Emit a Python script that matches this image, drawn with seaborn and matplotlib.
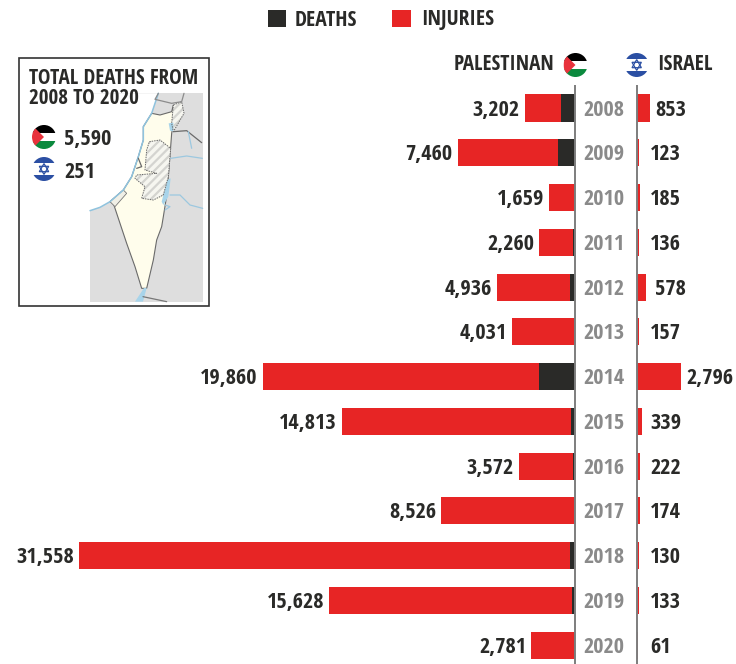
import matplotlib
matplotlib.use("Agg")
import matplotlib.pyplot as plt
from matplotlib.patches import Circle, Rectangle, Polygon
import pandas as pd
import seaborn as sns

years = ["2008","2009","2010","2011","2012","2013","2014","2015","2016","2017","2018","2019","2020"]
pal_total = [3202,7460,1659,2260,4936,4031,19860,14813,3572,8526,31558,15628,2781]
pal_deaths = [890,1066,95,124,300,60,2260,230,108,77,299,160,45]
isr_total = [853,123,185,136,578,157,2796,339,222,174,130,133,61]
isr_deaths = [35,9,8,11,7,6,88,25,13,15,14,10,3]

RED = "#e72525"; DARK = "#2a2a28"; GRAY = "#7d7d7d"; YEAR = "#8a8a8a"
FONT = ["Open Sans Condensed", "Roboto Condensed", "DejaVu Sans"]
W, H = 736, 664
sns.set_theme(style="white")
plt.rcParams["font.family"] = FONT
plt.rcParams["font.weight"] = "bold"
plt.rcParams["hatch.linewidth"] = 1.6
fig = plt.figure(figsize=(W/100, H/100), dpi=100)
PX = 0.01572

def axpx(x0, y0, x1, y1, **kw):
    return fig.add_axes([x0/W, 1-y1/H, (x1-x0)/W, (y1-y0)/H], **kw)

def panel(ax, totals, deaths, xlim):
    df = pd.DataFrame({"year": years, "total": totals, "deaths": deaths})
    sns.barplot(df, y="year", x="total", color=RED, saturation=1, width=0.605, ax=ax, orient="h", linewidth=0)
    sns.barplot(df, y="year", x="deaths", color=DARK, saturation=1, width=0.605, ax=ax, orient="h", linewidth=0)
    ax.set_xlim(*xlim)
    ax.set_ylim(12.42, -0.514)
    ax.axis("off")

axl = axpx(0, 85, 575, 664); panel(axl, pal_total, pal_deaths, (575/PX, 0))
axr = axpx(637, 85, 736, 664); panel(axr, isr_total, isr_deaths, (0, 99/PX))
for i, v in enumerate(pal_total):
    axl.annotate(f"{v:,}", (v, i), xytext=(-5*0.72, -1.5), textcoords="offset points",
                 ha="right", va="center", fontsize=16, color=DARK)
for i, v in enumerate(isr_total):
    base = 18/PX if v >= 500 else 13/PX
    axr.annotate(f"{v:,}", (max(v + 5/PX, base), i), xytext=(0, -1.5), textcoords="offset points",
                 ha="left", va="center", fontsize=16, color=DARK)
    axl.annotate(years[i], (0, i), xytext=(29*0.72, -1.5), textcoords="offset points",
                 ha="center", va="center", fontsize=16, color=YEAR, annotation_clip=False)

# overlay in pixel coordinates
ov = fig.add_axes([0, 0, 1, 1], zorder=5)
ov.set_xlim(0, W); ov.set_ylim(H, 0); ov.axis("off"); ov.patch.set_alpha(0)
for x in (575, 637):
    ov.plot([x, x], [85, H], color=GRAY, lw=1.4, solid_capstyle="butt")

def T(x, y, s, ha="left", fs=16, c=DARK):
    ov.text(x, y, s, ha=ha, va="center", fontsize=fs, color=c)

ov.add_patch(Rectangle((268, 10), 18, 17, color=DARK, lw=0))
ov.add_patch(Rectangle((392, 10), 19, 17, color=RED, lw=0))
T(295, 20, "DEATHS", fs=15.5); T(421, 20, "INJURIES", fs=15.5)
T(454, 65, "PALESTINAN", fs=15.2); T(657, 65, "ISRAEL", fs=15.5)

def pal_flag(cx, cy, r=12):
    clip = Circle((cx, cy), r, transform=ov.transData)
    parts = [Rectangle((cx-r, cy-r), 2*r, 2*r/3, color="#000000", lw=0),
             Rectangle((cx-r, cy-r/3), 2*r, 2*r/3, color="#ffffff", lw=0),
             Rectangle((cx-r, cy+r/3), 2*r, 2*r/3, color="#0b8a3e", lw=0),
             Polygon([(cx-r, cy-r), (cx, cy), (cx-r, cy+r)], color="#e8323c", lw=0)]
    for p in parts:
        ov.add_patch(p); p.set_clip_path(clip)

def isr_flag(cx, cy, r=12):
    clip = Circle((cx, cy), r, transform=ov.transData)
    parts = [Rectangle((cx-r, cy-r), 2*r, 0.5*r, color="#2b4fa3", lw=0),
             Rectangle((cx-r, cy+0.5*r), 2*r, 0.5*r, color="#2b4fa3", lw=0)]
    for p in parts:
        ov.add_patch(p); p.set_clip_path(clip)
    s = 0.45*r
    ov.add_patch(Polygon([(cx, cy-s), (cx-0.87*s, cy+0.5*s), (cx+0.87*s, cy+0.5*s)], fill=False, ec="#2b4fa3", lw=0.9))
    ov.add_patch(Polygon([(cx, cy+s), (cx-0.87*s, cy-0.5*s), (cx+0.87*s, cy-0.5*s)], fill=False, ec="#2b4fa3", lw=0.9))

pal_flag(575.5, 65); isr_flag(636.7, 65)

ov.add_patch(Rectangle((18.8, 58), 190, 248, fc="white", ec="#333333", lw=1.2))
def m(pts):
    return [(110 + x/3, 90 + y/3) for x, y in pts]
ov.add_patch(Rectangle((90, 93), 113, 209, color="#dedede", lw=0))
coast = [(145,10),(125,70),(100,110),(100,150),(85,200),(65,260),(40,300),(0,335),(-30,352),(-60,362)]
ov.add_patch(Polygon(m(coast + [(-60,10)]), color="white", lw=0))
ov.plot(*zip(*m(coast)), color="#8fc3de", lw=1.1)
isr = [(125,70),(150,75),(185,65),(190,45),(190,100),(185,130),(182,170),(175,260),(168,330),
       (160,380),(155,410),(140,450),(130,510),(110,595),(95,595),(75,530),(50,460),(30,400),(10,340),
       (0,335),(40,300),(65,260),(85,200),(100,150),(100,110)]
ov.add_patch(Polygon(m(isr), fc="#fffdec", ec="#6a6a6a", lw=0.8))
wb = [(118,155),(150,150),(182,175),(175,260),(160,315),(130,330),(95,325),(105,290),(75,265),(80,255),(140,250),(105,240),(110,180)]
golan = [(190,45),(215,35),(222,70),(190,125),(185,100)]
for poly in (wb, golan):
    ov.add_patch(Polygon(m(poly), fc="#f6f6f0", ec="#d4d4d0", lw=0, hatch="////"))
    ov.plot(*zip(*m(poly + poly[:1])), color="#6a6a6a", lw=0.7, ls=(0, (1.5, 1)))
gaza = [(0,335),(40,300),(50,310),(15,350)]
ov.add_patch(Polygon(m(gaza), fc="#f0efe6", ec="#777777", lw=0.6))
for water in ([(176,100),(190,98),(190,125),(180,122)], [(172,270),(182,265),(175,320),(160,345),(155,335)],
              [(102,594),(110,594),(99,635),(75,635)]):
    ov.add_patch(Polygon(m(water), color="#a8d4ea", lw=0))
for line, col in (([(145,10),(135,28),(185,40),(215,35),(222,10)], "#8c8c8c"),
                  ([(190,125),(230,122),(275,158)], "#6a6a6a"),
                  ([(235,125),(245,175)], "#9cc8e0"),
                  ([(182,205),(230,198),(277,205)], "#9cc8e0"),
                  ([(180,315),(210,315),(240,345),(278,355)], "#9cc8e0"),
                  ([(165,345),(180,350),(165,360)], "#9cc8e0"),
                  ([(85,205),(95,230),(80,235)], "#6a6a6a"),
                  ([(99,620),(170,635)], "#777777")):
    ov.plot(*zip(*m(line)), color=col, lw=0.9)

T(29, 79, "TOTAL DEATHS FROM", fs=15.2); T(29, 98, "2008 TO 2020", fs=15.2)
pal_flag(44, 137); isr_flag(44, 169)
T(64, 139.5, "5,590"); T(64, 172.5, "251")

fig.savefig("out.png", dpi=100)
